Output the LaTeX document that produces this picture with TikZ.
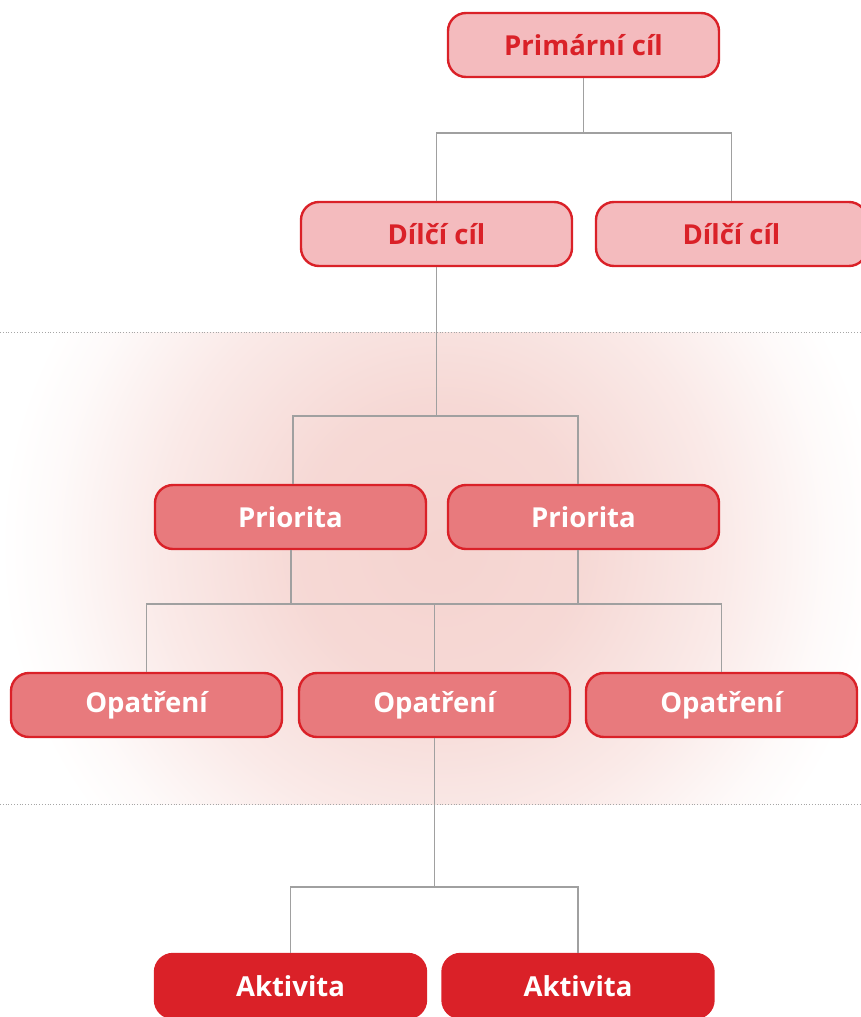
\documentclass[tikz,border=0pt]{standalone}
\usepackage{fontspec}
\setmainfont{Open Sans}
\definecolor{rd}{RGB}{218,33,40}
\definecolor{lightf}{RGB}{244,187,190}
\definecolor{midf}{RGB}{232,122,125}
\definecolor{conncol}{RGB}{160,160,160}
\definecolor{glow}{RGB}{245,212,208}
\pgfdeclareradialshading{glowshade}{\pgfpoint{0bp}{0bp}}{color(0bp)=(glow); color(8bp)=(glow!90!white); color(16bp)=(glow!50!white); color(22bp)=(glow!12!white); color(25bp)=(white); color(50bp)=(white)}
\begin{document}
\begin{tikzpicture}[x=1pt,y=-1pt,
  box/.style={draw=rd,line width=2.4pt,rounded corners=18pt,minimum width=271pt,minimum height=64pt,inner sep=0pt,font=\fontsize{27.5}{30}\selectfont\bfseries},
  lvlA/.style={box,fill=lightf,text=rd},
  lvlB/.style={box,fill=midf,text=white},
  lvlC/.style={box,fill=rd,text=white},
  conn/.style={draw=conncol,line width=1.3pt},
  sep/.style={draw=gray!70,line width=0.8pt,dotted}]
\useasboundingbox (0,0) rectangle (860,1017);
% background glow
\begin{scope}
\clip (0,332) rectangle (860,804);
\shade[shading=glowshade] (440,545) ellipse [x radius=440,y radius=440];
\end{scope}
\draw[sep] (0,332) -- (860,332);
\draw[sep] (0,804) -- (860,804);
% nodes
\node[lvlA] (p) at (583.5,45) {Primární cíl};
\node[lvlA] (d1) at (436.5,234) {Dílčí cíl};
\node[lvlA] (d2) at (731.5,234) {Dílčí cíl};
\node[lvlB] (r1) at (290.5,517) {Priorita};
\node[lvlB] (r2) at (583.5,517) {Priorita};
\node[lvlB] (o1) at (146.5,705) {Opatření};
\node[lvlB] (o2) at (434.5,705) {Opatření};
\node[lvlB] (o3) at (721.5,705) {Opatření};
\node[lvlC] (a1) at (290.5,986) {Aktivita};
\node[lvlC] (a2) at (578,986) {Aktivita};
% junctions
\coordinate (j1) at (583.5,133);
\coordinate (j2) at (436.5,416);
\coordinate (j3a) at (291,604);
\coordinate (j3b) at (578,604);
\coordinate (j4) at (434.5,887);
% connectors
\draw[conn] (p.south) -- (j1);
\draw[conn] (d1.north) |- (j1) -| (d2.north);
\draw[conn] (d1.south) -- (j2);
\draw[conn] ([xshift=2.5pt]r1.north) |- (j2) -| ([xshift=-5.5pt]r2.north);
\draw[conn] ([xshift=0.5pt]r1.south) -- (j3a);
\draw[conn] ([xshift=-5.5pt]r2.south) -- (j3b);
\draw[conn] (o1.north) |- (j3a) -- (j3b) -| (o3.north);
\draw[conn] (o2.north) -- (o2.north |- j3a);
\draw[conn] (o2.south) -- (j4);
\draw[conn] (a1.north) |- (j4) -| (a2.north);
\end{tikzpicture}
\end{document}
